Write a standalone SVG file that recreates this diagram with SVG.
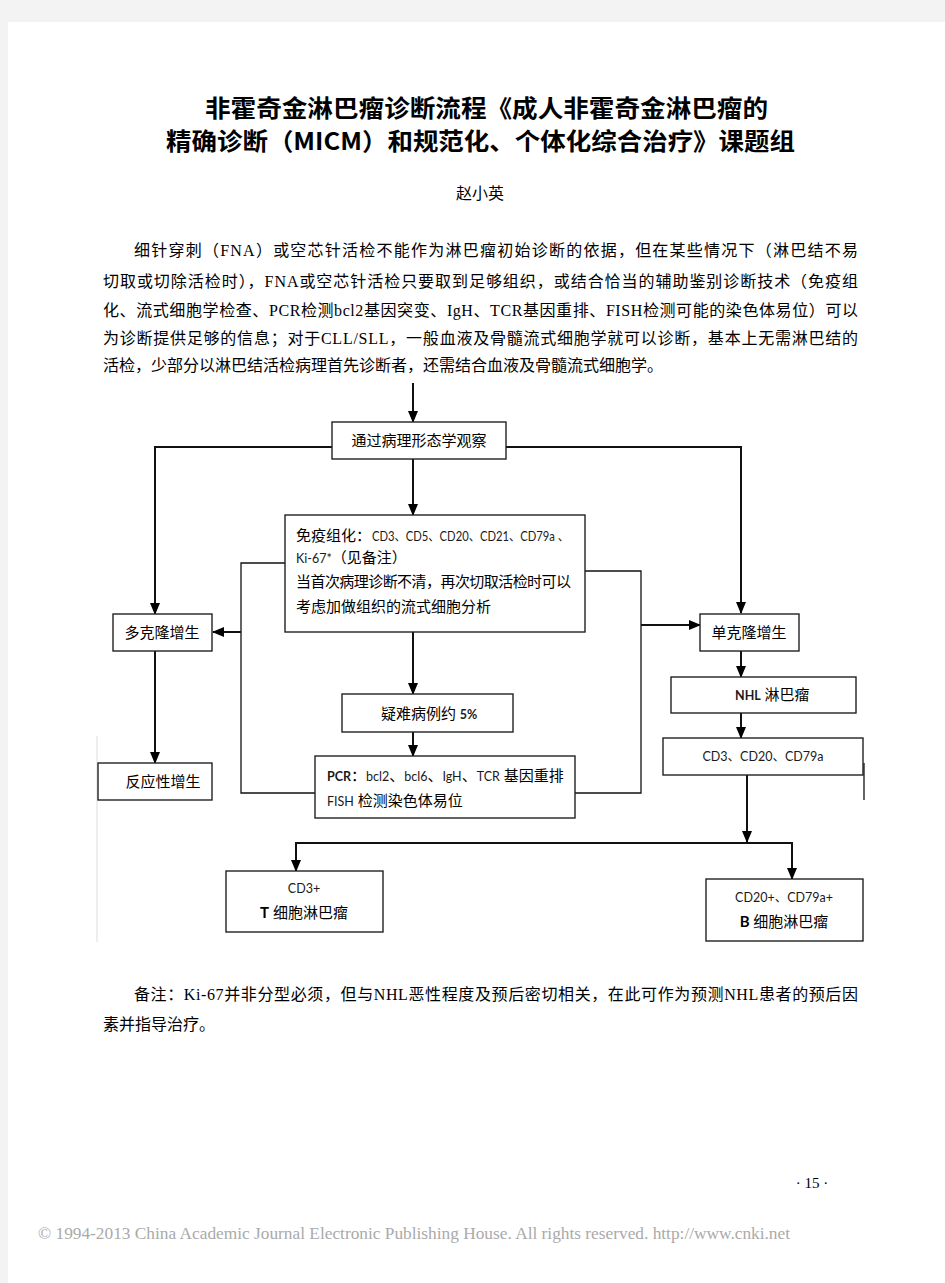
<svg xmlns="http://www.w3.org/2000/svg" width="945" height="1283" viewBox="0 0 945 1283">
<defs>
<marker id="ah" markerWidth="12" markerHeight="12" refX="11" refY="6" orient="auto" markerUnits="userSpaceOnUse">
<path d="M0,1 L12,6 L0,11 Z" fill="#000"/>
</marker>
<style>
.bg{fill:#f3f3f3}
.page{fill:#fff}
.box{fill:#fff;stroke:#222;stroke-width:1.4}
.ln{fill:none;stroke:#111;stroke-width:1.3}
.ar{fill:none;stroke:#111;stroke-width:2;marker-end:url(#ah)}
.title{font-family:"Noto Sans CJK SC",sans-serif;font-weight:700;font-size:24px;fill:#000}
.body{font-family:"Liberation Serif","Noto Sans CJK SC",serif;font-size:16px;fill:#000}
.bt{font-family:Lato,"Noto Sans CJK SC",sans-serif;font-size:15px;fill:#000}
.sm{font-family:Lato,"Noto Sans CJK SC",sans-serif;font-size:12.5px;fill:#1a1a1a}
.c{text-anchor:middle}
.b{font-weight:700}
</style>
</defs>
<rect class="bg" x="0" y="0" width="945" height="1283"/>
<rect class="page" x="8" y="22" width="937" height="1261"/>

<g id="header">
<text class="title" x="205" y="117" textLength="563" lengthAdjust="spacingAndGlyphs">非霍奇金淋巴瘤诊断流程《成人非霍奇金淋巴瘤的</text>
<text class="title" x="166" y="150" textLength="629" lengthAdjust="spacingAndGlyphs">精确诊断（MICM）和规范化、个体化综合治疗》课题组</text>
<text class="body" x="480" y="199" text-anchor="middle" font-size="16">赵小英</text>
</g>

<g id="intro">
<text class="body" x="134" y="256" textLength="724" lengthAdjust="spacing">细针穿刺（FNA）或空芯针活检不能作为淋巴瘤初始诊断的依据，但在某些情况下（淋巴结不易</text>
<text class="body" x="103" y="287" textLength="755" lengthAdjust="spacing">切取或切除活检时），FNA或空芯针活检只要取到足够组织，或结合恰当的辅助鉴别诊断技术（免疫组</text>
<text class="body" x="103" y="316" textLength="755" lengthAdjust="spacing">化、流式细胞学检查、PCR检测bcl2基因突变、IgH、TCR基因重排、FISH检测可能的染色体易位）可以</text>
<text class="body" x="103" y="344" textLength="755" lengthAdjust="spacing">为诊断提供足够的信息；对于CLL/SLL，一般血液及骨髓流式细胞学就可以诊断，基本上无需淋巴结的</text>
<text class="body" x="103" y="371">活检，少部分以淋巴结活检病理首先诊断者，还需结合血液及骨髓流式细胞学。</text>
</g>

<g id="connectors">
<path class="ar" d="M413,383 V422"/>
<path class="ar" d="M413,459 V515"/>
<path class="ar" d="M332,447 H155 V614"/>
<path class="ar" d="M506,447 H741 V613"/>
<path class="ar" d="M155,651 V763"/>
<path class="ln" d="M285,563 H241 V793 H315"/>
<path class="ar" d="M241,632 H213"/>
<path class="ln" d="M585,571 H641 V793 H575"/>
<path class="ar" d="M641,625 H700"/>
<path class="ar" d="M413,632 V694"/>
<path class="ar" d="M413,732 V756"/>
<path class="ar" d="M741,651 V677"/>
<path class="ar" d="M741,713 V738"/>
<path class="ar" d="M747,775 V842"/>
<path class="ar" d="M600,843 H296 V871"/>
<path class="ar" d="M600,843 H792 V879"/>
<path class="ln" d="M864,763 V800"/>
<path d="M97,736 V942" fill="none" stroke="#ddd" stroke-width="1"/>
</g>

<g id="n-observe">
<rect class="box" x="332" y="422" width="174" height="37"/>
<text class="bt c" x="419" y="446" font-size="16.5">通过病理形态学观察</text>
</g>

<g id="n-ihc">
<rect class="box" x="285" y="515" width="300" height="117"/>
<text class="bt" x="296" y="541">免疫组化：</text>
<text class="sm" x="372" y="541" textLength="197" lengthAdjust="spacingAndGlyphs">CD3、CD5、CD20、CD21、CD79a 、</text>
<text class="sm" x="296" y="563">Ki-67*<tspan class="bt">（见备注）</tspan></text>
<text class="bt" x="296" y="587" textLength="275" lengthAdjust="spacing">当首次病理诊断不清，再次切取活检时可以</text>
<text class="bt" x="296" y="612">考虑加做组织的流式细胞分析</text>
</g>

<g id="n-poly">
<rect class="box" x="113" y="614" width="99" height="37"/>
<text class="bt c" x="162" y="638">多克隆增生</text>
</g>

<g id="n-reactive">
<rect class="box" x="98" y="763" width="114" height="37"/>
<text class="bt c" x="163" y="787">反应性增生</text>
</g>

<g id="n-difficult">
<rect class="box" x="342" y="694" width="171" height="38"/>
<text class="bt" x="381" y="719">疑难病例约 <tspan class="sm b">5%</tspan></text>
</g>

<g id="n-pcr">
<rect class="box" x="315" y="756" width="260" height="62"/>
<text class="bt" x="327" y="781"><tspan class="sm b">PCR</tspan>：<tspan class="sm">bcl2</tspan>、<tspan class="sm">bcl6</tspan>、<tspan class="sm">IgH</tspan>、<tspan class="sm">TCR</tspan> 基因重排</text>
<text class="bt" x="327" y="806"><tspan class="sm">FISH</tspan> 检测染色体易位</text>
</g>

<g id="n-mono">
<rect class="box" x="700" y="614" width="99" height="37"/>
<text class="bt c" x="749" y="638">单克隆增生</text>
</g>

<g id="n-nhl">
<rect class="box" x="671" y="677" width="185" height="36"/>
<text class="bt" x="735" y="700"><tspan class="sm b">NHL</tspan> 淋巴瘤</text>
</g>

<g id="n-cd">
<rect class="box" x="663" y="738" width="200" height="37"/>
<text class="sm c" x="763" y="761">CD3、CD20、CD79a</text>
</g>

<g id="n-t">
<rect class="box" x="226" y="871" width="157" height="61"/>
<text class="sm c" x="304" y="893">CD3+</text>
<text class="bt c" x="304" y="918"><tspan class="b">T</tspan> 细胞淋巴瘤</text>
</g>

<g id="n-b">
<rect class="box" x="706" y="879" width="157" height="62"/>
<text class="sm c" x="784" y="902">CD20+、CD79a+</text>
<text class="bt c" x="784" y="927"><tspan class="b">B</tspan> 细胞淋巴瘤</text>
</g>

<g id="footnote">
<text class="body" x="134" y="1000" textLength="724" lengthAdjust="spacing">备注：Ki-67并非分型必须，但与NHL恶性程度及预后密切相关，在此可作为预测NHL患者的预后因</text>
<text class="body" x="103" y="1030">素并指导治疗。</text>
</g>

<g id="page-footer">
<text x="812" y="1188" font-family="Liberation Serif,serif" font-size="15" text-anchor="middle" fill="#000">· 15 ·</text>
<text x="38" y="1239" font-family="Liberation Serif,serif" font-size="16" fill="#aaa" textLength="752" lengthAdjust="spacingAndGlyphs">© 1994-2013 China Academic Journal Electronic Publishing House. All rights reserved.    http://www.cnki.net</text>
</g>
</svg>
